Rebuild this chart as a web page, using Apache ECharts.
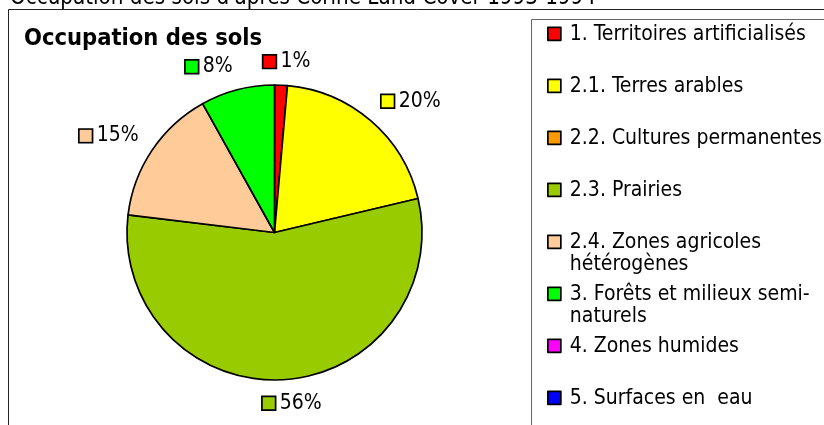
<!DOCTYPE html>
<html><head><meta charset="utf-8">
<script src="https://cdn.jsdelivr.net/npm/echarts@6/dist/echarts.min.js"></script>
<style>html,body{margin:0;padding:0;background:#fff}#c{width:824px;height:425px}</style>
</head><body><div id="c"></div>
<script>
// ---- data ----
const categories = ['1. Territoires artificialisés','2.1. Terres arables','2.2. Cultures permanentes','2.3. Prairies','2.4. Zones agricoles hétérogènes','3. Forêts et milieux semi-naturels','4. Zones humides','5. Surfaces en  eau'];
const legendLabels = ['1. Territoires artificialisés','2.1. Terres arables','2.2. Cultures permanentes','2.3. Prairies','2.4. Zones agricoles\nhétérogènes','3. Forêts et milieux semi-\nnaturels','4. Zones humides','5. Surfaces en  eau'];
const values = [1.4, 19.9, 0, 55.6, 15.0, 8.1, 0, 0];
const colors = ['#FF0000','#FFFF00','#FF9900','#99CC00','#FFCC99','#00FF00','#FF00FF','#0000FF'];
const mainTitle = "Occupation des sols d'après Corine Land Cover 1993-1994";
const chartTitle = 'Occupation des sols';

// ---- chart ----
const FONT = '"DejaVu Sans Condensed", "DejaVu Sans", sans-serif';
const LABEL_GAP = 15;
const rich = { t: { fontFamily: FONT, fontSize: 21, color: '#000', padding: [0, 0, 0, 5] } };
colors.forEach((c, i) => {
  rich['s' + i] = { width: 12, height: 12, backgroundColor: c, borderColor: '#000', borderWidth: 1.7 };
});

const chart = echarts.init(document.getElementById('c'), null, { renderer: 'canvas' });
chart.setOption({
  animation: false,
  backgroundColor: '#fff',
  title: [
    { text: chartTitle, left: 24, top: 27, padding: 0,
      textStyle: { fontFamily: FONT, fontWeight: 'bold', fontSize: 23.5, color: '#000' } },
    { text: mainTitle, left: 10, top: -13, padding: 0,
      textStyle: { fontFamily: FONT, fontWeight: 'normal', fontSize: 22.2, color: '#000' } }
  ],
  graphic: [
    { type: 'rect', z: -10, silent: true, shape: { x: 8.5, y: 9.5, width: 900, height: 500 },
      style: { fill: '#fff', stroke: '#222', lineWidth: 1 } },
    { type: 'rect', z: -9, silent: true, shape: { x: 531.5, y: 19.5, width: 400, height: 500 },
      style: { fill: '#fff', stroke: '#666', lineWidth: 1 } }
  ],
  legend: {
    orient: 'vertical', left: 547, top: 22.5, height: 700, padding: 0, itemGap: 6.3,
    itemWidth: 17, itemHeight: 44,
    icon: 'path://M0,0M17,44M0,4h13v13h-13z',
    itemStyle: { borderColor: '#000', borderWidth: 1.7 },
    selectedMode: false,
    data: categories,
    formatter: function (name) {
      const t = legendLabels[categories.indexOf(name)];
      return t.indexOf('\n') >= 0 ? t : t + '\n ';
    },
    textStyle: { fontFamily: FONT, fontSize: 21, color: '#000', lineHeight: 22 }
  },
  series: [{
    type: 'pie',
    center: [274.5, 232.5],
    radius: 147.5,
    startAngle: 90,
    clockwise: true,
    avoidLabelOverlap: false,
    silent: true,
    itemStyle: { borderColor: '#000', borderWidth: 1.7 },
    label: {
      show: true, position: 'outside',
      formatter: function (p) { return '{s' + p.dataIndex + '|}{t|' + Math.round(p.percent) + '%}'; },
      rich: rich
    },
    labelLine: { show: true, length: 14, length2: 0, lineStyle: { opacity: 0 } },
    labelLayout: function (p) {
      const pts = p.labelLinePoints;
      if (!pts || pts.length < 2) return {};
      let dx = pts[1][0] - pts[0][0], dy = pts[1][1] - pts[0][1];
      const L = Math.hypot(dx, dy) || 1; dx /= L; dy /= L;
      const w = p.labelRect.width, h = p.labelRect.height - 4;
      const fx = Math.min(1, Math.abs(dx) * 5), fy = Math.min(1, Math.abs(dy) * 1.3);
      const cx = pts[0][0] + dx * LABEL_GAP + Math.sign(dx) * fx * w / 2;
      const cy = pts[0][1] + dy * LABEL_GAP + Math.sign(dy) * fy * h / 2;
      return { x: cx, y: cy, align: 'center', verticalAlign: 'middle' };
    },
    data: categories.map(function (n, i) {
      const nz = values[i] > 0;
      return { name: n, value: values[i], itemStyle: { color: colors[i], borderWidth: nz ? 1.7 : 0 },
               label: { show: nz }, labelLine: { show: nz } };
    })
  }]
});
</script>
</body></html>
